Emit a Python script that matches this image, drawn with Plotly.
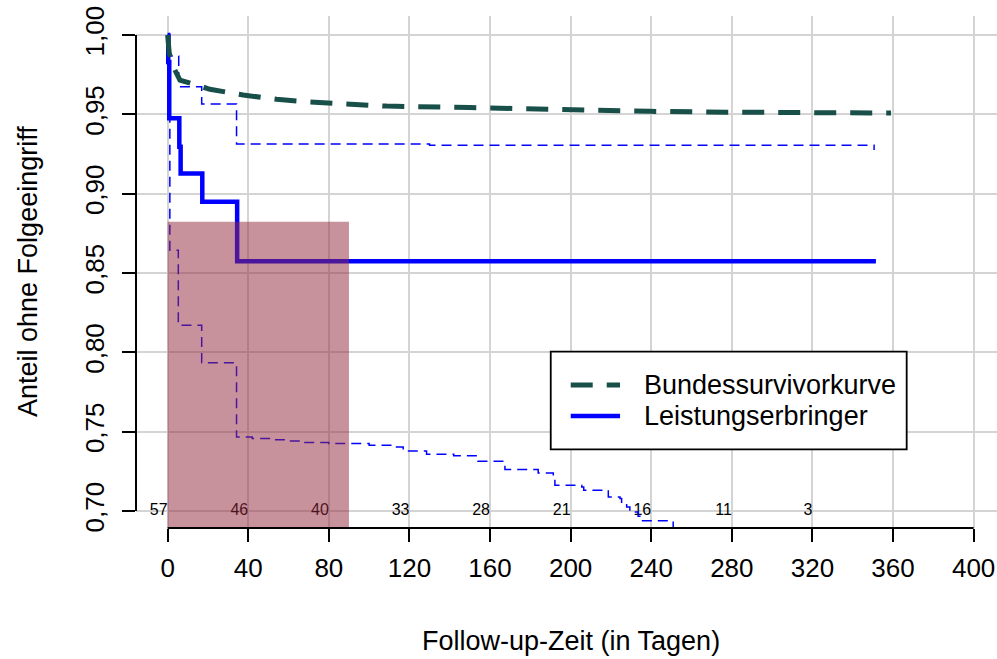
import plotly.graph_objects as go

# ---------------- data ----------------
bund_t = [0, 0.3, 0.8, 2.8, 6.1, 14.4, 21, 37.5, 54.1, 70.6, 90.5, 108.7, 150, 180, 219.5, 239.4, 277.4, 313.8, 352.7, 359]
bund_s = [1.000, 0.993, 0.9885, 0.980, 0.9716, 0.9685, 0.9658, 0.9622, 0.9595, 0.9578, 0.9563, 0.9552, 0.9543, 0.9534, 0.9523, 0.9519, 0.9514, 0.9510, 0.9508, 0.9508]

le_t = [0, 0.3, 0.8, 5.8, 6.45, 17.2, 34.5, 351.5]
le_s = [1.000, 0.983, 0.9475, 0.9296, 0.9128, 0.8949, 0.8575, 0.8575]

upper_t = [0, 1.1, 5.5, 16.9, 34.2, 130, 350.5, 350.6]
upper_s = [1.000, 0.9868, 0.9674, 0.9565, 0.9313, 0.9306, 0.9306, 0.9275]

lower_t = [0, 0.3, 1.1, 5.3, 16.9, 34.2, 42, 52, 59, 67, 80, 100, 113.6, 116.9, 128.5, 142, 154,
           167.4, 183.9, 191.4, 192.2, 205.5, 206.5, 218.7, 224.5, 225.3, 227.8, 229.4, 233.5, 234.4, 250.9]
lower_s = [1.000, 0.955, 0.8644, 0.8171, 0.7934, 0.7467, 0.7457, 0.7449, 0.7442, 0.7432, 0.7426, 0.7415, 0.7404,
           0.7379, 0.7358, 0.7348, 0.7314, 0.7262, 0.7240, 0.7211, 0.7163, 0.7152, 0.7131, 0.7089, 0.7079, 0.7047,
           0.7026, 0.6994, 0.6967, 0.6938, 0.680]

risk_t = [0, 40, 80, 120, 160, 200, 240, 280, 320]
risk_n = ["57", "46", "40", "33", "28", "21", "16", "11", "3"]

highlight_start, highlight_end, highlight_top = 0, 90, 0.8823

x_ticks = [0, 40, 80, 120, 160, 200, 240, 280, 320, 360, 400]
y_ticks = [0.70, 0.75, 0.80, 0.85, 0.90, 0.95, 1.00]
y_ticklabels = ["0,70", "0,75", "0,80", "0,85", "0,90", "0,95", "1,00"]

names = ["Bundessurvivorkurve", "Leistungserbringer"]
x_title = "Follow-up-Zeit (in Tagen)"
y_title = "Anteil ohne Folgeeingriff"

# ---------------- figure ----------------
FONT = "Liberation Sans, Arial, sans-serif"
GREEN = "rgb(24,79,72)"
BLUE = "rgb(0,0,255)"
X_RANGE = [-15.7, 411.6]
Y_RANGE = [0.6893, 1.012]
GREEN_DASH = "22px,14px"

fig = go.Figure()

# numbers at risk (below the highlight rectangle)
fig.add_trace(go.Scatter(x=risk_t, y=[0.70] * len(risk_t), mode="text", text=risk_n,
                         textposition="middle left", textfont=dict(family=FONT, size=16, color="black"),
                         showlegend=False, hoverinfo="skip", cliponaxis=False))

fig.add_trace(go.Scatter(x=upper_t, y=upper_s, mode="lines", line=dict(color=BLUE, width=1.5, dash="10px,6px", shape="hv"),
                         showlegend=False))
fig.add_trace(go.Scatter(x=lower_t, y=lower_s, mode="lines", line=dict(color=BLUE, width=1.5, dash="10px,6px", shape="hv"),
                         showlegend=False))
fig.add_trace(go.Scatter(x=le_t, y=le_s, mode="lines", name=names[1], showlegend=False,
                         line=dict(color=BLUE, width=4.5, shape="hv")))
fig.add_trace(go.Scatter(x=bund_t, y=bund_s, mode="lines", name=names[0], showlegend=False,
                         line=dict(color=GREEN, width=5, dash=GREEN_DASH)))

# highlight rectangle (above traces)
fig.add_shape(type="rect", xref="x", yref="y", x0=highlight_start, x1=highlight_end,
              y0=Y_RANGE[0], y1=highlight_top, fillcolor="rgba(147,41,61,0.51)", line=dict(width=0), layer="above")

# R-style axis lines
fig.add_shape(type="line", xref="x", yref="paper", x0=x_ticks[0], x1=x_ticks[-1], y0=0, y1=0,
              line=dict(color="black", width=2))
fig.add_shape(type="line", xref="paper", yref="y", x0=0, x1=0, y0=y_ticks[0], y1=y_ticks[-1],
              line=dict(color="black", width=2))

# legend box (drawn by hand to match layout)
fig.add_shape(type="rect", xref="paper", yref="paper", x0=0.4817, x1=0.8951, y0=0.1537, y1=0.3443,
              fillcolor="white", line=dict(color="black", width=1.8), layer="above")
fig.add_shape(type="line", xref="paper", yref="paper", x0=0.5049, x1=0.5622, y0=0.2793, y1=0.2793,
              line=dict(color=GREEN, width=5, dash=GREEN_DASH), layer="above")
fig.add_shape(type="line", xref="paper", yref="paper", x0=0.5049, x1=0.5622, y0=0.2188, y1=0.2188,
              line=dict(color=BLUE, width=4.5), layer="above")
for name, yy in zip(names, [0.2793, 0.2188]):
    fig.add_annotation(text=name, xref="paper", yref="paper", x=0.5873, y=yy, showarrow=False,
                       xanchor="left", yanchor="middle", font=dict(family=FONT, size=27, color="black"))

fig.update_xaxes(range=X_RANGE, tickvals=x_ticks, ticks="outside", ticklen=13, tickwidth=1.5, tickcolor="black",
                 showgrid=True, gridcolor="rgb(212,212,212)", gridwidth=1.5, zeroline=False, showline=False,
                 tickfont=dict(family=FONT, size=26, color="black"), ticklabelstandoff=4, automargin=False,
                 ticklabeloverflow="allow")
fig.update_yaxes(range=Y_RANGE, tickvals=y_ticks, ticktext=y_ticklabels, ticks="outside", ticklen=13, tickwidth=1.5,
                 tickcolor="black", showgrid=True, gridcolor="rgb(212,212,212)", gridwidth=1.5, zeroline=False,
                 showline=False, tickangle=-90, tickfont=dict(family=FONT, size=26, color="black"),
                 ticklabelstandoff=8, automargin=False, ticklabeloverflow="allow")

fig.add_annotation(text=x_title, xref="x", yref="paper", x=200, y=0, yshift=-113, showarrow=False,
                   xanchor="center", yanchor="middle", font=dict(family=FONT, size=27, color="black"))
fig.add_annotation(text=y_title, xref="paper", yref="paper", x=0, y=0.5, xshift=-108, showarrow=False,
                   textangle=-90, xanchor="center", yanchor="middle", font=dict(family=FONT, size=27, color="black"))

fig.update_layout(
    width=997, height=659,
    margin=dict(l=136, r=0, t=16, b=131, autoexpand=False),
    paper_bgcolor="white", plot_bgcolor="white",
    font=dict(family=FONT, color="black"),
    showlegend=False,
)

# remove the default 8px body margin so the figure fills the window exactly
fig.write_html("out.html", config={"displayModeBar": False},
               post_script="document.body.style.margin='0';document.body.style.overflow='hidden';")
